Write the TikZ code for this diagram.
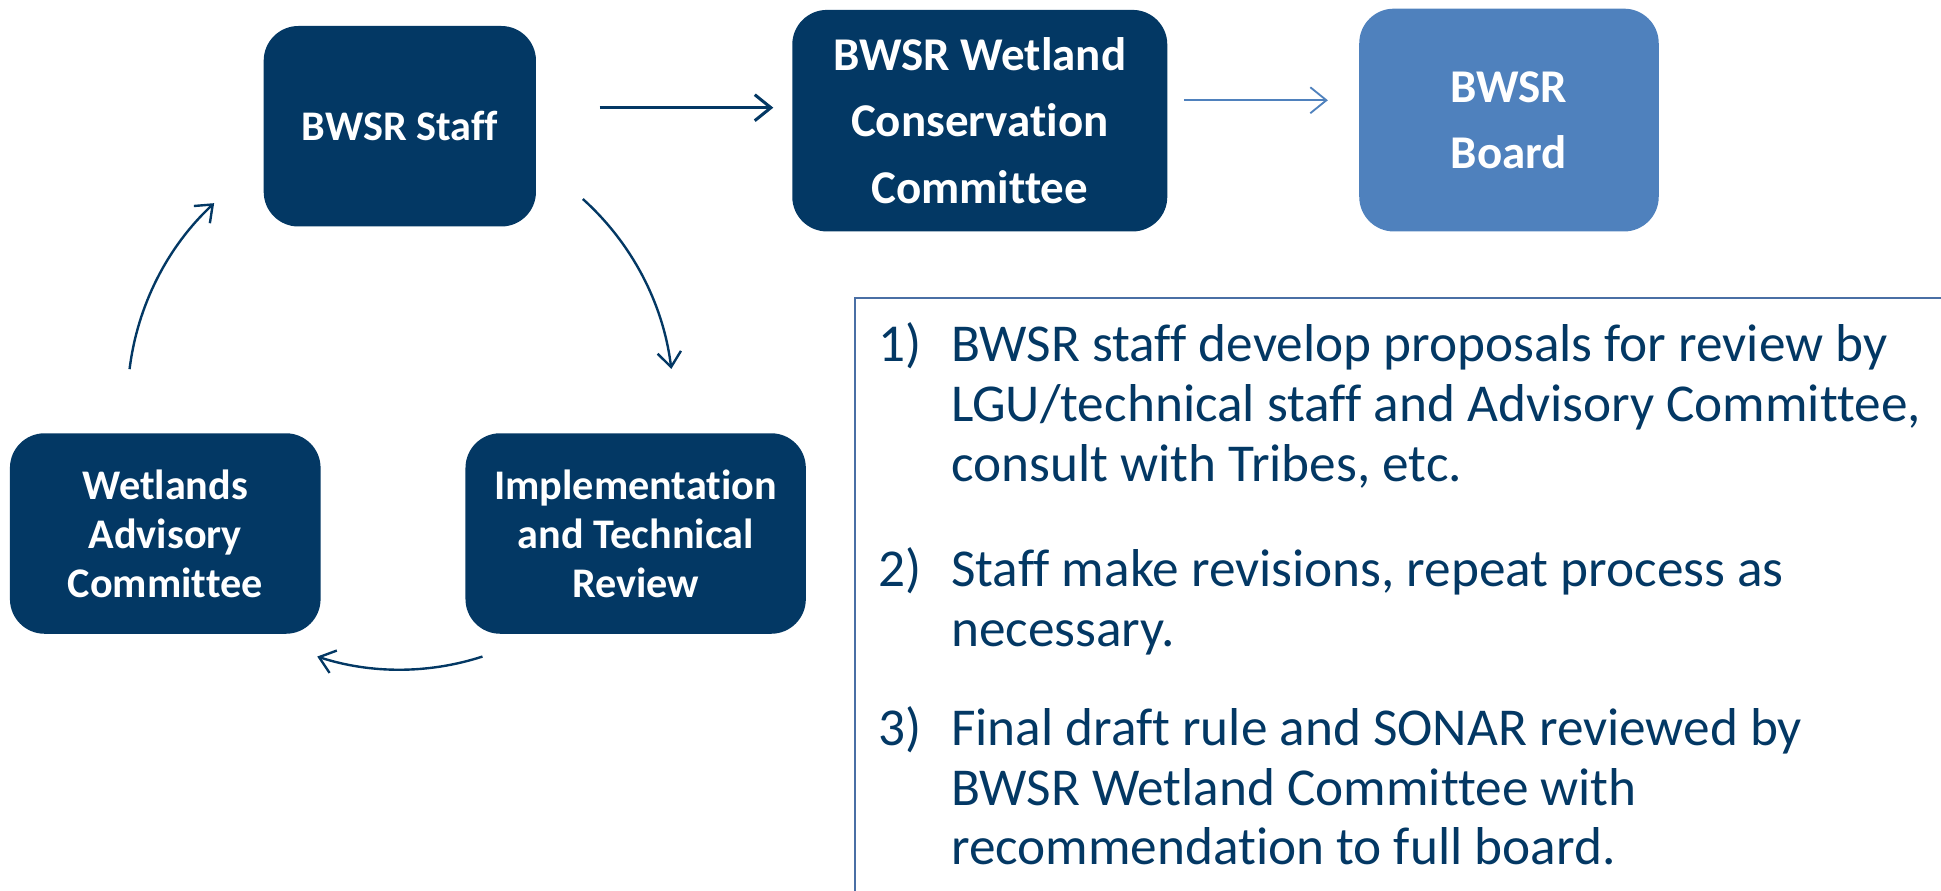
\documentclass[tikz,border=0pt]{standalone}
\usepackage{fontspec}
\setmainfont{Carlito}[Ligatures=NoCommon]
\usetikzlibrary{arrows.meta}
\definecolor{navy}{HTML}{033864}
\definecolor{boardblue}{HTML}{4F81BD}
\definecolor{framecol}{HTML}{4A6FA5}
\begin{document}
\begin{tikzpicture}[x=0.02cm,y=0.02cm,
  stage/.style={rounded corners=0.56cm, fill=navy, text=white, align=center, inner sep=0pt,
    font=\bfseries\fontsize{19.4}{22.5}\selectfont},
  bigstage/.style={stage, font=\bfseries\fontsize{21.6}{30.5}\selectfont},
  flow/.style={draw=navy, line width=1.4pt, -{Straight Barb[length=0.26cm,width=0.42cm]}},
  cycarrow/.style={draw=navy, line width=1.1pt, -{Straight Barb[length=0.24cm,width=0.38cm]}},
  listitem/.style={anchor=base west, inner sep=0pt, text=navy, font=\fontsize{24.5}{27.5}\selectfont}]
\useasboundingbox (0,0) rectangle (1568,719);
\clip (0,0) rectangle (1568,719);
% stages
\node[stage, minimum width=4.4cm, minimum height=3.24cm] (staff) at (323,617) {BWSR Staff};
\node[bigstage, minimum width=6.06cm, minimum height=3.58cm] (wcc) at (791.5,621.5) {BWSR Wetland\\Conservation\\Committee};
\node[bigstage, fill=boardblue, minimum width=4.84cm, minimum height=3.6cm] (board) at (1219,622) {BWSR\\Board};
\node[stage, minimum width=5.02cm, minimum height=3.24cm] (wac) at (133.5,288) {Wetlands\\Advisory\\Committee};
\node[stage, minimum width=5.5cm, minimum height=3.24cm] (itr) at (513.5,288) {Implementation\\and Technical\\Review};
% straight arrows
\draw[flow, shorten <=1.02cm, shorten >=0.3cm] ([yshift=0.3cm]staff.east) -- ([yshift=0.3cm]staff.east -| wcc.west);
\draw[flow, draw=boardblue, line width=0.85pt, shorten <=0.26cm, shorten >=0.5cm] ([yshift=0.33cm]wcc.east) -- ([yshift=0.33cm]wcc.east -| board.west);
% review cycle
\coordinate (hub) at (323,394);
\draw[cycarrow] ([shift={(48:4.42cm)}]hub) arc[start angle=48, end angle=7, radius=4.42cm];
\draw[cycarrow] ([shift={(-72:4.32cm)}]hub) arc[start angle=-72, end angle=-108, radius=4.32cm];
\draw[cycarrow] ([shift={(173:4.4cm)}]hub) arc[start angle=173, end angle=133, radius=4.4cm];
% notes
\draw[framecol, line width=0.85pt] (691,-50) rectangle (1620,478);
\node[listitem] (step1) at (709,427) {\begin{tabular}[t]{@{}p{1.18cm}@{}l@{}}1) & BWSR staff develop proposals for review by\\ & LGU/technical staff and Advisory Committee,\\ & consult with Tribes, etc.\end{tabular}};
\node[listitem] (step2) at (709,245) {\begin{tabular}[t]{@{}p{1.18cm}@{}l@{}}2) & Staff make revisions, repeat process as\\ & necessary.\end{tabular}};
\node[listitem] (step3) at (709,117) {\begin{tabular}[t]{@{}p{1.18cm}@{}l@{}}3) & Final draft rule and SONAR reviewed by\\ & BWSR Wetland Committee with\\ & recommendation to full board.\end{tabular}};
\end{tikzpicture}
\end{document}
